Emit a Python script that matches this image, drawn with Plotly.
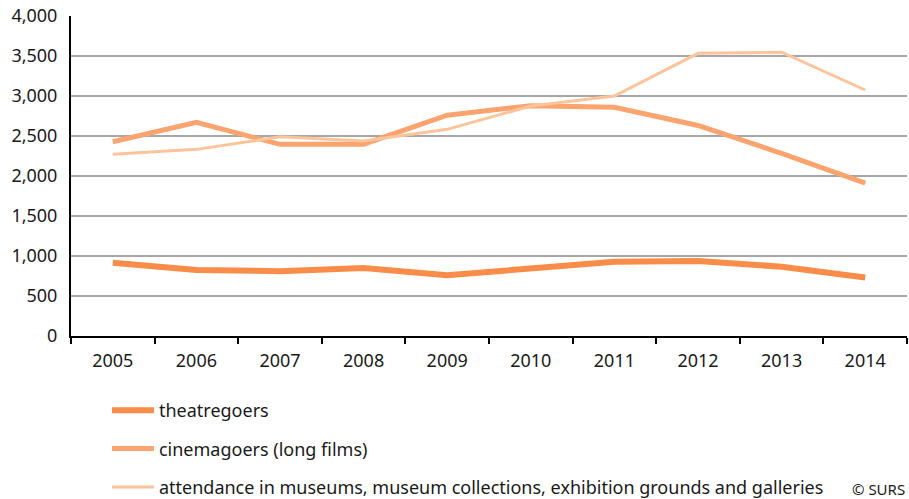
import plotly.graph_objects as go

years = ["2005", "2006", "2007", "2008", "2009", "2010", "2011", "2012", "2013", "2014"]
theatregoers = [915, 825, 810, 850, 760, 850, 928, 938, 866, 732]
cinemagoers = [2428, 2670, 2396, 2398, 2760, 2878, 2858, 2632, 2283, 1912]
museums = [2271, 2333, 2490, 2437, 2583, 2875, 3000, 3533, 3548, 3075]

names = [
    "theatregoers",
    "cinemagoers (long films)",
    "attendance in museums, museum collections, exhibition grounds and galleries",
]
series = [theatregoers, cinemagoers, museums]
colors = ["#F98C48", "#FBA46F", "#FDC49C"]
widths = [6, 5, 3]

FONT = "Noto Sans"

fig = go.Figure()
for i, (nm, vals) in enumerate(zip(names, series)):
    fig.add_trace(go.Scatter(
        x=years, y=vals, name=nm, mode="lines",
        line=dict(color=colors[i], width=widths[i]),
        legendgroup=f"g{i}",
    ))

fig.update_layout(
    width=909, height=499,
    margin=dict(l=71, r=2, t=16, b=163, autoexpand=False),
    paper_bgcolor="white", plot_bgcolor="white",
    font=dict(family=FONT, size=18, color="#1a1a1a"),
    showlegend=True,
    legend=dict(
        x=0.043, y=-0.175, xanchor="left", yanchor="top",
        orientation="v", traceorder="grouped", tracegroupgap=12,
        font=dict(family=FONT, size=18, color="#1a1a1a"),
        itemwidth=42, bgcolor="rgba(0,0,0,0)",
    ),
    xaxis=dict(
        type="category", range=[-0.5, 9.5], automargin=False,
        showline=True, linecolor="black", linewidth=2,
        ticks="outside", tickson="boundaries", ticklen=6, tickwidth=2, tickcolor="black",
        showgrid=False, tickfont=dict(size=18), ticklabelstandoff=7,
    ),
    yaxis=dict(
        range=[0, 4000], dtick=500, tickformat=",", automargin=False,
        showline=True, linecolor="black", linewidth=2,
        showgrid=True, gridcolor="#A6A6A6", gridwidth=2,
        zeroline=False, ticks="", tickfont=dict(size=18), ticklabelstandoff=8,
    ),
    annotations=[dict(
        text="© SURS", xref="paper", yref="paper", x=1.0, y=-0.478,
        xanchor="right", yanchor="middle", showarrow=False,
        font=dict(family=FONT, size=15, color="#1a1a1a"),
    )],
)

fig.write_html(
    "out.html",
    config={"displayModeBar": False},
    post_script="document.body.style.margin='0';document.body.style.padding='0';",
)
